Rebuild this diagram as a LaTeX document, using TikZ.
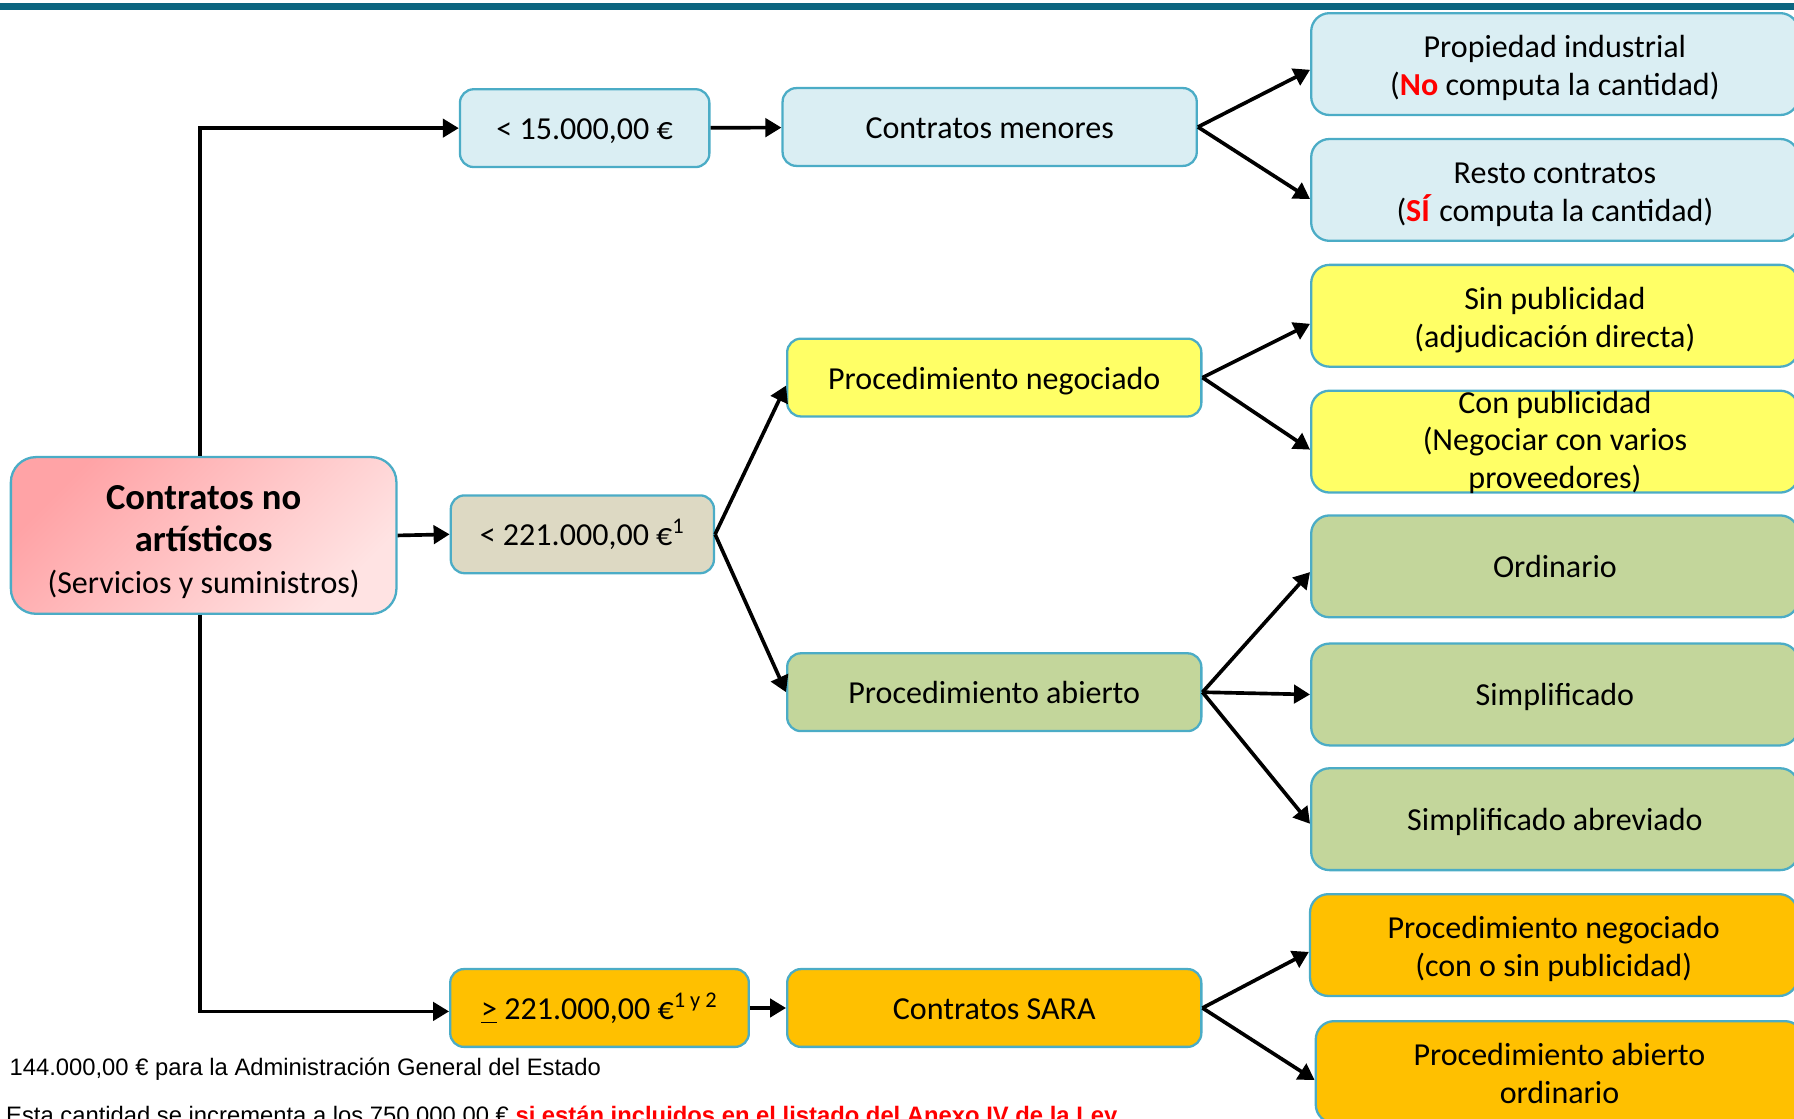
\documentclass[tikz,border=0pt]{standalone}
\usepackage{fontspec}
\setmainfont{Carlito}
\newfontfamily\notefont{Liberation Sans}
\usetikzlibrary{arrows.meta}
\definecolor{barteal}{HTML}{0B6580}
\definecolor{edgeblue}{HTML}{4BACC6}
\definecolor{paleblue}{HTML}{DAEEF3}
\definecolor{lemon}{HTML}{FFFF66}
\definecolor{sage}{HTML}{C3D69B}
\definecolor{amber}{HTML}{FFC000}
\definecolor{khaki}{HTML}{DDD9C3}
\definecolor{rosedark}{HTML}{FFA3A6}
\definecolor{roselight}{HTML}{FFE3E3}
\definecolor{alertred}{HTML}{FF0000}
\begin{document}
\begin{tikzpicture}[x=0.5pt, y=-0.5pt,
    box/.style={draw=edgeblue, line width=1pt, rounded corners=6pt, align=center, inner sep=2pt, font=\fontsize{14}{16.5}\selectfont},
    oneline/.style={text height=13pt, text depth=3pt},
    twoline/.style={text height=30.5pt, text depth=3pt},
    shortbox/.style={box, oneline, minimum height=34pt},
    leafbox/.style={box, minimum width=213pt, minimum height=44.5pt, rounded corners=8pt},
    arr/.style={line width=1.6pt, -{Triangle[length=7pt,width=8pt]}},
    note/.style={anchor=base west, inner sep=0pt, font=\notefont\fontsize{10.4}{12}\selectfont}]
        \useasboundingbox (0,0) rectangle (1568,978);
        \clip (0,0) rectangle (1568,978);
        \fill[barteal] (0,3) rectangle (1568,9);
        \node (root) [box, rounded corners=11pt, minimum width=168.5pt, minimum height=68.5pt, text height=52pt, text depth=1pt, top color=rosedark, bottom color=roselight, shading angle=45, font=\fontsize{16}{18.5}\selectfont] at (178,468) {\textbf{Contratos no}\\\textbf{artísticos}\\{\fontsize{14}{18.5}\selectfont(Servicios y suministros)}};
        \node (lt15) [shortbox, fill=paleblue, minimum width=109pt] at (511,112) {< 15.000,00 €};
        \node (menores) [shortbox, fill=paleblue, minimum width=181pt] at (865,111) {Contratos menores};
        \node (lt221) [shortbox, fill=khaki, minimum width=115pt] at (509,467) {< 221.000,00 €\textsuperscript{1}};
        \node (ge221) [shortbox, fill=amber, minimum width=130.5pt] at (524,881) {\underline{>} 221.000,00 €\textsuperscript{1 y 2}};
        \node (negoc) [shortbox, fill=lemon, minimum width=181pt] at (869,330) {Procedimiento negociado};
        \node (abierto) [shortbox, fill=sage, minimum width=181pt] at (869,605) {Procedimiento abierto};
        \node (sara) [shortbox, fill=amber, minimum width=181pt] at (869,881) {Contratos SARA};
        \node (propind) [leafbox, twoline, fill=paleblue] at (1359,56) {Propiedad industrial\\(\textcolor{alertred}{\textbf{No}} computa la cantidad)};
        \node (resto) [leafbox, twoline, fill=paleblue] at (1359,166) {Resto contratos\\(\textcolor{alertred}{\textbf{SÍ}} computa la cantidad)};
        \node (sinpub) [leafbox, twoline, fill=lemon] at (1359,276) {Sin publicidad\\(adjudicación directa)};
        \node (conpub) [leafbox, fill=lemon, inner ysep=0pt, text height=41pt, text depth=0pt] at (1359,386) {Con publicidad\\(Negociar con varios\\proveedores)};
        \node (ordin) [leafbox, oneline, fill=sage] at (1359,495) {Ordinario};
        \node (simpl) [leafbox, oneline, fill=sage] at (1359,607) {Simplificado};
        \node (abrev) [leafbox, oneline, fill=sage] at (1359,716) {Simplificado abreviado};
        \node (negsara) [leafbox, twoline, fill=amber] at (1358,826) {Procedimiento negociado\\(con o sin publicidad)};
        \node (abisara) [leafbox, twoline, fill=amber] at (1363,937) {Procedimiento abierto\\ordinario};
        \draw[arr] ([xshift=-1.5pt]root.north) |- (lt15.west);
        \draw[arr] (root.east) -- (lt221.west);
        \draw[arr] ([xshift=-1.5pt]root.south) |- ([yshift=-1.5pt]ge221.west);
        \draw[arr] (lt15) -- (menores);
        \draw[arr] (ge221) -- (sara);
        \draw[arr] (menores.east) -- ([yshift=-2.5pt]propind.west);
        \draw[arr] (menores.east) -- ([yshift=-4pt]resto.west);
        \draw[arr] (lt221.east) -- ([yshift=-3.5pt]negoc.west);
        \draw[arr] (lt221.east) -- (abierto.west);
        \draw[arr] (negoc.east) -- ([yshift=-3.5pt]sinpub.west);
        \draw[arr] (negoc.east) -- ([yshift=-3.5pt]conpub.west);
        \draw[arr] (abierto.east) -- ([yshift=-2.5pt]ordin.west);
        \draw[arr] (abierto.east) -- (simpl.west);
        \draw[arr] (abierto.east) -- ([yshift=-2pt]abrev.west);
        \draw[arr] (sara.east) -- ([yshift=-3pt]negsara.west);
        \draw[arr] (sara.east) -- ([yshift=-3.5pt]abisara.west);
        \node (fnA) [note] at (8,940) {144.000,00 € para la Administración General del Estado};
        \node (fnB) [note] at (5,982) {Esta cantidad se incrementa a los 750.000,00 € \textcolor{alertred}{\textbf{si están incluidos en el listado del Anexo IV de la Ley.}}};
    \end{tikzpicture}
\end{document}
